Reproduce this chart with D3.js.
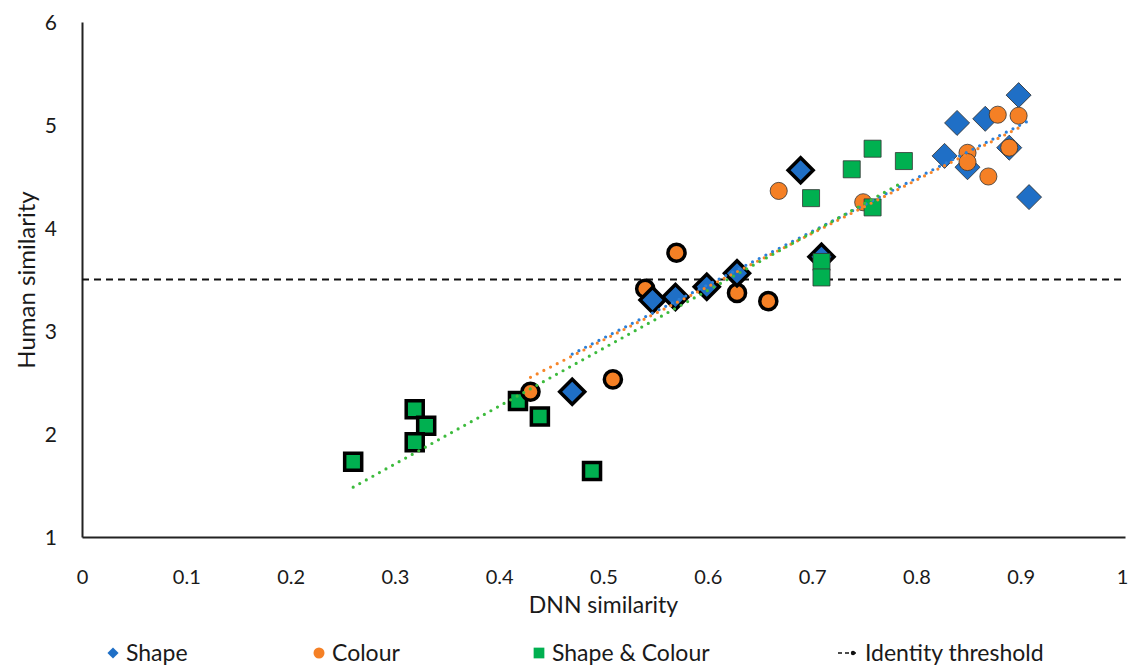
<!DOCTYPE html>
<html>
<head>
<meta charset="utf-8">
<script src="https://cdn.jsdelivr.net/npm/d3@7"></script>
<style>
  html, body { margin: 0; padding: 0; background: #fff; }
  svg text { font-family: Lato, "Open Sans", "DejaVu Sans", sans-serif; fill: #1a1a1a; }
</style>
</head>
<body>
<svg id="chart" width="1129" height="667"></svg>
<script>
// ---- data ----
const shapeX    = [0.898, 0.839, 0.866, 0.827, 0.849, 0.889, 0.908, 0.689, 0.709, 0.628, 0.599, 0.569, 0.547, 0.470];
const shapeY    = [5.29, 5.02, 5.06, 4.70, 4.59, 4.78, 4.30, 4.56, 3.72, 3.56, 3.43, 3.33, 3.30, 2.41];
const shapeBold = [0, 0, 0, 0, 0, 0, 0, 1, 1, 1, 1, 1, 1, 1];

const colourX    = [0.878, 0.898, 0.849, 0.849, 0.889, 0.869, 0.668, 0.749, 0.570, 0.540, 0.628, 0.658, 0.509, 0.430];
const colourY    = [5.10, 5.09, 4.73, 4.64, 4.78, 4.50, 4.36, 4.25, 3.76, 3.41, 3.37, 3.29, 2.53, 2.41];
const colourBold = [0, 0, 0, 0, 0, 0, 0, 0, 1, 1, 1, 1, 1, 1];

const bothX    = [0.758, 0.738, 0.788, 0.699, 0.758, 0.709, 0.709, 0.319, 0.330, 0.319, 0.260, 0.418, 0.439, 0.489];
const bothY    = [4.77, 4.57, 4.65, 4.29, 4.20, 3.67, 3.52, 2.24, 2.08, 1.92, 1.73, 2.32, 2.17, 1.64];
const bothBold = [0, 0, 0, 0, 0, 0, 0, 1, 1, 1, 1, 1, 1, 1];

const identityThreshold = 3.5;
const xTicks = [0, 0.1, 0.2, 0.3, 0.4, 0.5, 0.6, 0.7, 0.8, 0.9, 1];
const yTicks = [1, 2, 3, 4, 5, 6];
const legendLabels = ["Shape", "Colour", "Shape & Colour", "Identity threshold"];

// ---- layout ----
const svg = d3.select("#chart");
const mLeft = 82, mRight = 1125, mTop = 22, mBottom = 537;
const x = d3.scaleLinear().domain([0, 1]).range([mLeft, mRight]);
const y = d3.scaleLinear().domain([1, 6]).range([mBottom, mTop]);

const colors = { shape: "#1f6fc6", colour: "#f58025", both: "#00b050" };
const trendColors = { shape: "#2b7fd8", colour: "#f7862a", both: "#3dbb3d" };

// diamond = square rotated 45 degrees
const series = [
  { key: "shape", xs: shapeX, ys: shapeY, bold: shapeBold, sym: d3.symbolSquare, rot: 45, size: 313 },
  { key: "colour", xs: colourX, ys: colourY, bold: colourBold, sym: d3.symbolCircle, rot: 0, size: 230 },
  { key: "both", xs: bothX, ys: bothY, bold: bothBold, sym: d3.symbolSquare, rot: 0, size: 290 }
];
series.forEach(s => {
  s.pts = s.xs.map((v, i) => ({ x: v, y: s.ys[i], bold: !!s.bold[i] }));
});

// axes
const xAxis = d3.axisBottom(x).tickValues(xTicks).tickSize(0).tickPadding(0)
  .tickFormat(d => d === 0 || d === 1 ? String(d) : d3.format(".1f")(d));
const yAxis = d3.axisLeft(y).tickValues(yTicks).tickSize(0).tickPadding(0).tickFormat(d3.format("d"));

const gx = svg.append("g").attr("transform", `translate(0,${mBottom})`).call(xAxis);
gx.select(".domain").attr("stroke", "#222").attr("stroke-width", 2);
gx.selectAll(".tick text").attr("dy", 0).attr("y", 47).style("font-size", "20px")
  .style("font-family", "Lato, sans-serif").attr("fill", "#1a1a1a")
  .attr("dx", d => d === 1 ? -3 : 0);

const gy = svg.append("g").attr("transform", `translate(${mLeft},0)`).call(yAxis);
gy.select(".domain").attr("stroke", "#222").attr("stroke-width", 2);
gy.selectAll(".tick text").attr("x", -25).attr("dy", "0.36em").style("font-size", "21px")
  .style("font-family", "Lato, sans-serif").attr("fill", "#1a1a1a");

// axis titles
svg.append("text").attr("x", (mLeft + mRight) / 2).attr("y", 613).attr("text-anchor", "middle")
  .style("font-size", "23px").text("DNN similarity");
svg.append("text").attr("transform", `translate(35,280) rotate(-90)`)
  .attr("text-anchor", "middle").style("font-size", "24px").text("Human similarity");

// identity threshold
svg.append("line").attr("x1", mLeft).attr("x2", mRight)
  .attr("y1", y(identityThreshold)).attr("y2", y(identityThreshold))
  .attr("stroke", "#111").attr("stroke-width", 1.8).attr("stroke-dasharray", "7,5");

// markers
function drawPoints(s, bold) {
  const pts = s.pts.filter(p => p.bold === bold);
  svg.append("g").selectAll("path").data(pts).join("path")
    .attr("transform", d => `translate(${x(d.x)},${y(d.y)}) rotate(${s.rot})`)
    .attr("d", d3.symbol().type(s.sym).size(s.size))
    .attr("fill", colors[s.key])
    .attr("stroke", bold ? "#000" : "#333")
    .attr("stroke-width", bold ? 3.5 : 0.8)
    .attr("stroke-linejoin", "miter");
}
const byKey = Object.fromEntries(series.map(s => [s.key, s]));
drawPoints(byKey.both, true);
drawPoints(byKey.colour, true);
drawPoints(byKey.shape, true);
drawPoints(byKey.shape, false);
drawPoints(byKey.colour, false);
drawPoints(byKey.both, false);

// linear trendlines (least squares fit of each series)
series.forEach(s => {
  const mx = d3.mean(s.pts, p => p.x), my = d3.mean(s.pts, p => p.y);
  const sxy = d3.sum(s.pts, p => (p.x - mx) * (p.y - my));
  const sxx = d3.sum(s.pts, p => (p.x - mx) ** 2);
  const b = sxy / sxx, a = my - b * mx;
  const [x0, x1] = d3.extent(s.pts, p => p.x);
  svg.append("line")
    .attr("x1", x(x0)).attr("y1", y(a + b * x0))
    .attr("x2", x(x1)).attr("y2", y(a + b * x1))
    .attr("stroke", trendColors[s.key]).attr("stroke-width", 3.2)
    .attr("stroke-linecap", "round").attr("stroke-dasharray", "0,7.5");
});

// legend
const ly = 653;
const lg = svg.append("g");
const legendItems = [
  { sym: d3.symbolSquare, rot: 45, color: colors.shape, sx: 113, tx: 126, label: legendLabels[0], size: 62 },
  { sym: d3.symbolCircle, rot: 0, color: colors.colour, sx: 319, tx: 332, label: legendLabels[1], size: 95 },
  { sym: d3.symbolSquare, rot: 0, color: colors.both, sx: 539, tx: 552, label: legendLabels[2], size: 115 }
];
legendItems.forEach(it => {
  lg.append("path").attr("transform", `translate(${it.sx},${ly}) rotate(${it.rot})`)
    .attr("d", d3.symbol().type(it.sym).size(it.size)).attr("fill", it.color);
  lg.append("text").attr("x", it.tx).attr("y", ly).attr("dy", "0.36em")
    .style("font-size", "23px").text(it.label);
});
lg.append("line").attr("x1", 838).attr("x2", 858).attr("y1", ly).attr("y2", ly)
  .attr("stroke", "#111").attr("stroke-width", 1.5).attr("stroke-dasharray", "4,3");
lg.append("circle").attr("cx", 853).attr("cy", ly).attr("r", 2.2).attr("fill", "#111");
lg.append("text").attr("x", 865).attr("y", ly).attr("dy", "0.36em")
  .style("font-size", "23px").text(legendLabels[3]);
</script>
</body>
</html>
